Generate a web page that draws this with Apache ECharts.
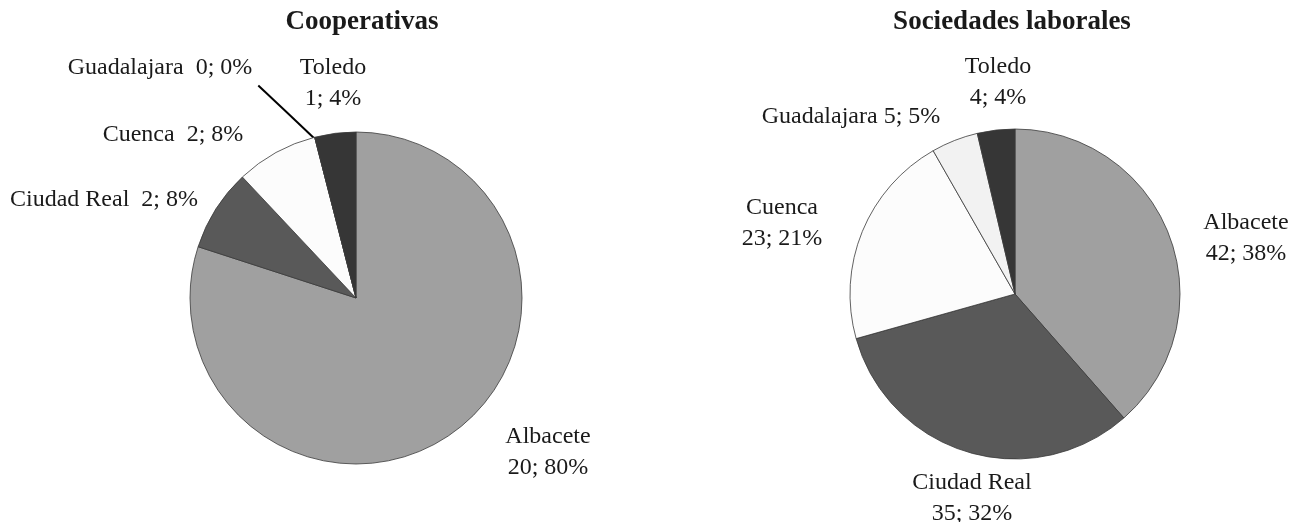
<!DOCTYPE html>
<html>
<head>
<meta charset="utf-8">
<script src="https://cdn.jsdelivr.net/npm/echarts@6/dist/echarts.min.js"></script>
<style>
html,body{margin:0;padding:0;background:#fff;}
#chart{width:1290px;height:522px;}
</style>
</head>
<body>
<div id="chart"></div>
<script>
// ---- data ----
const categories = ['Albacete', 'Ciudad Real', 'Cuenca', 'Guadalajara', 'Toledo'];
const coopValues = [20, 2, 2, 0, 1];
const socValues = [42, 35, 23, 5, 4];
const titles = ['Cooperativas', 'Sociedades laborales'];

// ---- style / layout ----
const sliceColors = ['#a0a0a0', '#595959', '#fcfcfc', '#f2f2f2', '#363636'];
const FONT = 'Liberation Serif, Times New Roman, serif';
// label centre positions [x, y] and separator between name and value
const coopLabelPos = [[548, 452], [104, 200], [173, 135], [160, 68], [333, 83]];
const coopSep = ['\n', '  ', '  ', '  ', '\n'];
const socLabelPos = [[1246, 238], [972, 498], [782, 223], [851, 117], [998, 82]];
const socSep = ['\n', '\n', '\n', ' ', '\n'];
const coopCenter = [356, 298], coopR = 166;
const socCenter = [1015, 294], socR = 165;

function buildData(values) {
  return categories.map((name, i) => ({
    name: name,
    value: values[i],
    itemStyle: { color: sliceColors[i] }
  }));
}

function makeSeries(values, center, radius, pos, sep, leaderIdx) {
  const total = values.reduce((a, b) => a + b, 0);
  const data = buildData(values);
  if (leaderIdx != null) {
    data[leaderIdx].labelLine = { show: true, lineStyle: { color: '#000', width: 2 } };
  }
  return {
    type: 'pie',
    center: center,
    radius: radius,
    startAngle: 90,
    clockwise: true,
    percentPrecision: 0,
    avoidLabelOverlap: false,
    animation: false,
    itemStyle: { borderColor: '#3a3a3a', borderWidth: 0.8 },
    emphasis: { disabled: true },
    label: {
      show: true,
      position: 'outside',
      fontFamily: FONT,
      fontSize: 24,
      lineHeight: 31,
      color: '#1a1a1a',
      align: 'center',
      formatter: p => p.name + sep[p.dataIndex] + p.value + '; ' + p.percent + '%'
    },
    labelLine: { show: false },
    labelLayout: function (params) {
      const i = params.dataIndex;
      const out = { x: pos[i][0], y: pos[i][1], align: 'center', verticalAlign: 'middle' };
      if (leaderIdx != null && i === leaderIdx) {
        // leader from label's lower-right corner to the slice boundary on the rim
        let cum = 0;
        for (let k = 0; k < i; k++) cum += values[k];
        const theta = cum / total * 2 * Math.PI;
        const ex = center[0] + (radius - 2) * Math.sin(theta);
        const ey = center[1] - (radius - 2) * Math.cos(theta);
        const w = params.labelRect.width, h = params.labelRect.height;
        const sx = pos[i][0] + w / 2 + 6, sy = pos[i][1] + h / 2 + 2;
        out.labelLinePoints = [[sx, sy], [(sx + ex) / 2, (sy + ey) / 2], [ex, ey]];
      }
      return out;
    },
    data: data
  };
}

const chart = echarts.init(document.getElementById('chart'), null, { renderer: 'canvas' });
chart.setOption({
  backgroundColor: '#ffffff',
  title: [
    { text: titles[0], left: 362, top: 9, textAlign: 'center', padding: 0,
      textStyle: { fontFamily: FONT, fontSize: 27, fontWeight: 'bold', color: '#1a1a1a' } },
    { text: titles[1], left: 1012, top: 9, textAlign: 'center', padding: 0,
      textStyle: { fontFamily: FONT, fontSize: 27, fontWeight: 'bold', color: '#1a1a1a' } }
  ],
  series: [
    makeSeries(coopValues, coopCenter, coopR, coopLabelPos, coopSep, 3),
    makeSeries(socValues, socCenter, socR, socLabelPos, socSep, null)
  ]
});
</script>
</body>
</html>
